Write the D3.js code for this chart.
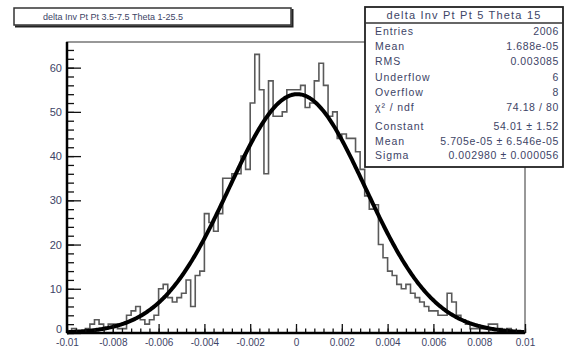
<!DOCTYPE html>
<html>
<head>
<meta charset="utf-8">
<script src="https://cdn.jsdelivr.net/npm/d3@7"></script>
<style>
  body { margin: 0; background: #fff; }
  svg { display: block; }
  text { font-family: "Liberation Sans", Arial, sans-serif; }
</style>
</head>
<body>
<div id="chart"></div>
<script>
// histogram: 100 bins from -0.01 to 0.01
const binLow = -0.01;
const binHigh = 0.01;
const counts = [
  0, 1, 0, 0, 1,   2, 3, 2, 1, 2,
  2, 1, 1, 4, 5,   6, 3, 2, 3, 4,
  10, 11, 8, 7, 8, 9, 12, 6, 13, 14,
  27, 25, 23, 27, 35, 35, 36, 36, 40, 37,
  52, 63, 55, 36, 57, 49, 49, 50, 55, 55,
  55, 56, 51, 52, 57, 61, 56, 49, 50, 44,
  45, 44, 44, 41, 37, 31, 28, 29, 20, 17,
  14, 13, 11, 10, 11, 9, 8, 7, 6, 5,
  5, 4, 4, 9, 7,   4, 3, 2, 1, 1,
  1, 1, 2, 2, 1,   0, 1, 0, 0, 0
];

const xTicks = [-0.01, -0.008, -0.006, -0.004, -0.002, 0, 0.002, 0.004, 0.006, 0.008, 0.01];
const xTickLabels = ['-0.01', '-0.008', '-0.006', '-0.004', '-0.002', '0', '0.002', '0.004', '0.006', '0.008', '0.01'];
const yTicks = [0, 10, 20, 30, 40, 50, 60];
const yMax = 65.8;

// gaussian fit parameters
const fitConstant = 54.01;
const fitMean = 5.705e-05;
const fitSigma = 0.00298;

const titleText = 'delta Inv Pt  Pt 3.5-7.5  Theta 1-25.5';
const statsTitle = 'delta Inv Pt  Pt 5  Theta 15';
const statsLabels = ['Entries', 'Mean', 'RMS', 'Underflow', 'Overflow', 'χ² / ndf', 'Constant', 'Mean', 'Sigma'];
const statsValues = ['2006', '1.688e-05', '0.003085', '6', '8', '74.18 / 80', '54.01 ± 1.52', '5.705e-05 ± 6.546e-05', '0.002980 ± 0.000056'];

const width = 565, height = 353;
const frame = { left: 67, right: 525, top: 42, bottom: 333 };
const textColor = '#3d4466';

const svg = d3.select('#chart')
  .append('svg')
  .attr('width', width)
  .attr('height', height);

const x = d3.scaleLinear().domain([binLow, binHigh]).range([frame.left, frame.right]);
const y = d3.scaleLinear().domain([0, yMax]).range([frame.bottom, frame.top]);

const binWidth = (binHigh - binLow) / counts.length;

// histogram outline as a step line
const pts = [[binLow, 0]];
counts.forEach((c, i) => pts.push([binLow + i * binWidth, c]));
pts.push([binHigh, 0]);

svg.append('path')
  .datum(pts)
  .attr('fill', 'none')
  .attr('stroke', '#5a5a5a')
  .attr('stroke-width', 1.6)
  .attr('d', d3.line().x(d => x(d[0])).y(d => y(d[1])).curve(d3.curveStepAfter));

// fit curve
const fitPts = d3.range(0, 401).map(k => {
  const xv = binLow + k * (binHigh - binLow) / 400;
  return [xv, fitConstant * Math.exp(-0.5 * Math.pow((xv - fitMean) / fitSigma, 2))];
});
svg.append('path')
  .datum(fitPts)
  .attr('fill', 'none')
  .attr('stroke', '#000')
  .attr('stroke-width', 4)
  .attr('stroke-linejoin', 'round')
  .attr('d', d3.line().x(d => x(d[0])).y(d => y(d[1])));

// frame
svg.append('rect')
  .attr('x', frame.left).attr('y', frame.top)
  .attr('width', frame.right - frame.left).attr('height', frame.bottom - frame.top)
  .attr('fill', 'none')
  .attr('stroke', '#777')
  .attr('stroke-width', 1.5);

// y axis (ticks point inward)
const yMinor = svg.append('g')
  .attr('transform', `translate(${frame.left},0)`)
  .call(d3.axisLeft(y).tickValues(d3.range(0, 66, 2)).tickSize(-7).tickFormat(''));
const yMajor = svg.append('g')
  .attr('transform', `translate(${frame.left},0)`)
  .call(d3.axisLeft(y).tickValues(yTicks).tickSize(-14).tickPadding(5));

// x axis
const xMinor = svg.append('g')
  .attr('transform', `translate(0,${frame.bottom})`)
  .call(d3.axisBottom(x).tickValues(d3.range(0, 51).map(k => binLow + k * 0.0004)).tickSize(-4.5).tickFormat(''));
const xMajor = svg.append('g')
  .attr('transform', `translate(0,${frame.bottom})`)
  .call(d3.axisBottom(x).tickValues(xTicks).tickSize(-9).tickPadding(6)
    .tickFormat((d, i) => xTickLabels[i]));

[yMinor, yMajor, xMinor, xMajor].forEach(g => {
  g.select('.domain').remove();
  g.selectAll('line').attr('stroke', '#111').attr('stroke-width', 1.3);
});
yMajor.selectAll('text').attr('font-size', 11).attr('fill', textColor);
// the y "0" label sits just above the x "-0.01" label, as in the original
yMajor.selectAll('text').filter(d => d === 0).attr('dy', '-0.05em');
xMajor.selectAll('text').attr('font-size', 10).attr('fill', textColor);

// axis lines on left and bottom, heavier
svg.append('line')
  .attr('x1', frame.left).attr('x2', frame.left)
  .attr('y1', frame.top).attr('y2', frame.bottom)
  .attr('stroke', '#000').attr('stroke-width', 2.5);
svg.append('line')
  .attr('x1', frame.left).attr('x2', frame.right)
  .attr('y1', frame.bottom).attr('y2', frame.bottom)
  .attr('stroke', '#000').attr('stroke-width', 2.5);

// title box
svg.append('rect')
  .attr('x', 14).attr('y', 8).attr('width', 277).attr('height', 17)
  .attr('fill', '#fff').attr('stroke', '#333').attr('stroke-width', 1.5);
svg.append('path')
  .attr('d', 'M15,26.5 H292.5 V9')
  .attr('fill', 'none').attr('stroke', '#222').attr('stroke-width', 2);
svg.append('text')
  .attr('x', 43).attr('y', 20)
  .attr('font-size', 9)
  .attr('fill', textColor)
  .text(titleText);

// stats box
const sb = { x: 365, y: 7, w: 198, h: 160 };
svg.append('rect')
  .attr('x', sb.x).attr('y', sb.y).attr('width', sb.w).attr('height', sb.h)
  .attr('fill', '#fff').attr('stroke', '#222').attr('stroke-width', 1.8);
svg.append('line')
  .attr('x1', sb.x).attr('x2', sb.x + sb.w)
  .attr('y1', 23).attr('y2', 23)
  .attr('stroke', '#333').attr('stroke-width', 1.5);
svg.append('text')
  .attr('x', sb.x + sb.w / 2).attr('y', 19)
  .attr('text-anchor', 'middle')
  .attr('font-size', 11)
  .attr('letter-spacing', 1.2)
  .attr('fill', textColor)
  .text(statsTitle);

const rowY = [35, 50, 65, 81, 96, 111, 130, 145, 159];
const rows = svg.append('g')
  .selectAll('g')
  .data(statsLabels)
  .join('g');
rows.append('text')
  .attr('x', sb.x + 10)
  .attr('y', (d, i) => rowY[i])
  .attr('font-size', 10.5)
  .attr('letter-spacing', 0.9)
  .attr('fill', textColor)
  .text(d => d);
rows.append('text')
  .attr('x', sb.x + sb.w - 4)
  .attr('y', (d, i) => rowY[i])
  .attr('text-anchor', 'end')
  .attr('font-size', 10.5)
  .attr('letter-spacing', 0.6)
  .attr('fill', textColor)
  .text((d, i) => statsValues[i]);
</script>
</body>
</html>
